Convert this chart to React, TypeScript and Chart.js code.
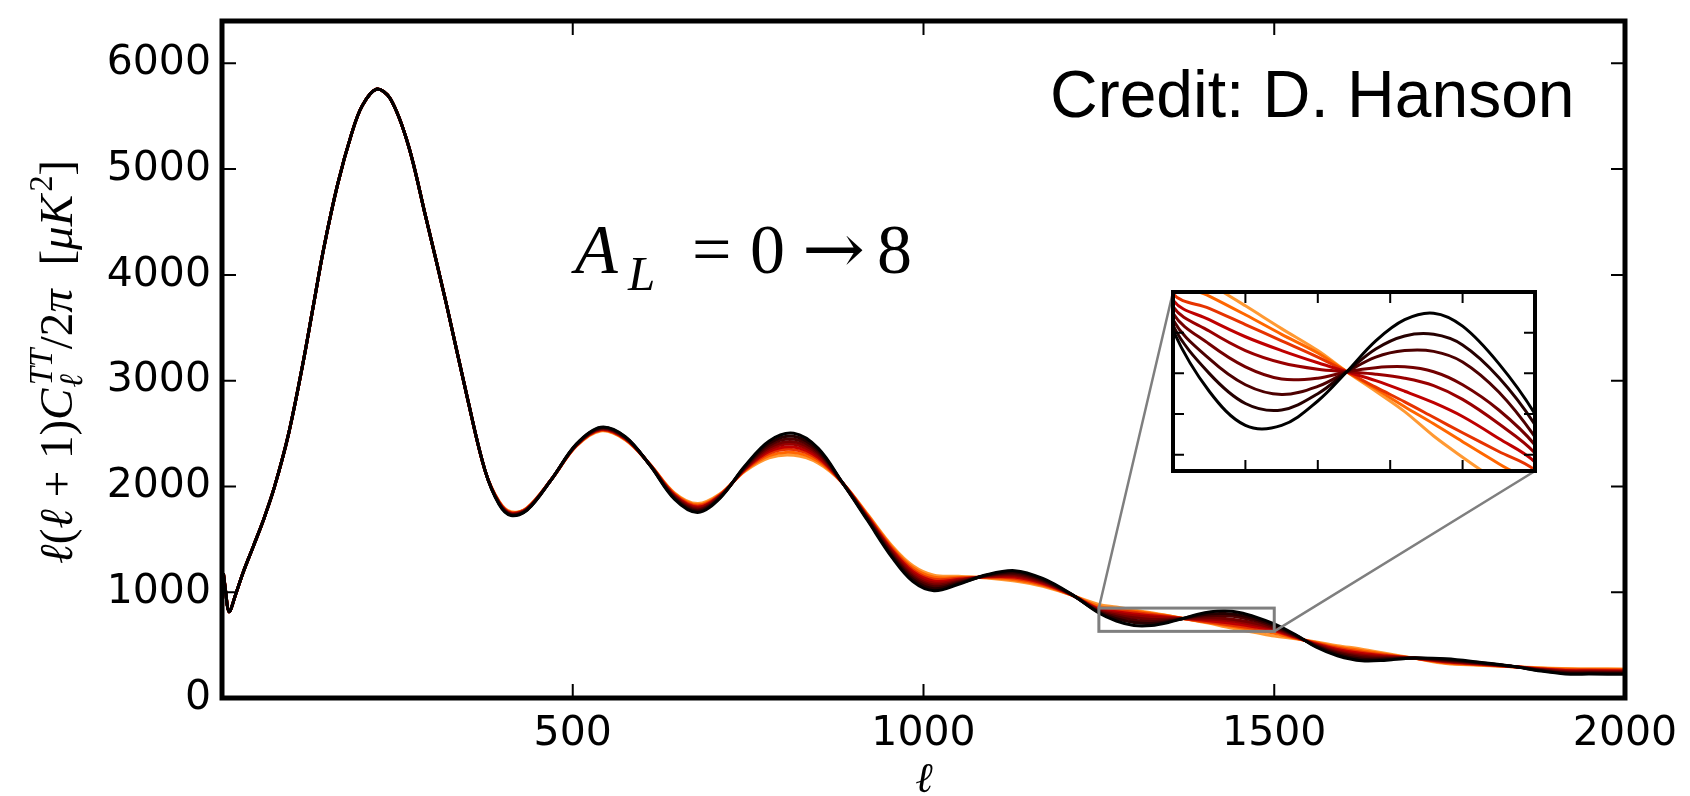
import { useEffect, useRef } from "react";
import { Chart, registerables } from "chart.js";

Chart.register(...registerables);

// ---------------- data ----------------
const A_L_VALUES = [0, 1, 2, 3, 4, 5, 6, 7, 8];
const CURVE_COLORS = ["#000000", "#260000", "#4d0000", "#730000", "#990000", "#bf0000", "#e63300", "#ff6600", "#ff9933"];

// multipoles where all curves coincide
const ELL_COMMON = [2, 5, 10, 20, 30, 45, 60, 75, 95, 115, 130, 145, 165, 185, 200, 220, 240, 265, 290, 320, 350, 375];
const DL_COMMON = [1180, 1020, 815, 990, 1185, 1440, 1700, 2000, 2500, 3150, 3700, 4250, 4860, 5340, 5600, 5755, 5665, 5240, 4560, 3720, 2830, 2150];

// multipoles where lensing separates the curves
const ELL_LENSED = [395, 412, 435, 470, 505, 540, 575, 610, 645, 678, 710, 745, 780, 815, 850, 885, 920, 955, 985, 1015, 1050, 1090, 1130, 1170, 1210, 1250, 1275, 1300, 1325, 1350, 1370, 1390, 1410, 1430, 1450, 1475, 1500, 1530, 1560, 1590, 1625, 1660, 1700, 1745, 1790, 1840, 1880, 1915, 1950, 2000];

const DL_AL0 = [1830, 1725, 1775, 2070, 2400, 2560, 2470, 2200, 1880, 1754, 1890, 2190, 2430, 2502, 2360, 2030, 1680, 1330, 1100, 1014, 1075, 1165, 1204, 1130, 985, 803, 728, 686, 686, 716, 752, 790, 816, 824, 808, 762, 700, 600, 480, 400, 352, 358, 378, 370, 340, 300, 255, 228, 226, 225];
const DL_AL1 = [1834, 1730, 1778, 2070, 2397, 2555, 2466, 2201, 1888, 1765, 1895, 2184, 2409, 2475, 2342, 2030, 1688, 1344, 1120, 1033, 1085, 1161, 1191, 1120, 984, 809, 750, 713, 705, 725, 752, 780, 796, 798, 785, 745, 687, 595, 487, 412, 366, 366, 378, 364, 336, 299, 259, 235, 233, 232];
const DL_AL2 = [1838, 1734, 1782, 2070, 2395, 2551, 2462, 2203, 1896, 1776, 1900, 2177, 2388, 2448, 2324, 2030, 1696, 1359, 1139, 1052, 1095, 1157, 1178, 1111, 982, 816, 768, 736, 724, 734, 752, 770, 778, 777, 764, 727, 672, 590, 493, 425, 381, 374, 377, 358, 332, 299, 263, 241, 239, 238];
const DL_AL3 = [1841, 1738, 1785, 2070, 2392, 2547, 2459, 2204, 1903, 1786, 1905, 2171, 2369, 2423, 2307, 2030, 1703, 1372, 1157, 1069, 1104, 1154, 1166, 1102, 981, 824, 786, 758, 743, 744, 752, 757, 758, 752, 736, 705, 662, 585, 499, 436, 394, 382, 377, 353, 329, 298, 266, 247, 245, 244];
const DL_AL4 = [1845, 1743, 1788, 2070, 2390, 2543, 2455, 2205, 1910, 1796, 1910, 2165, 2350, 2398, 2290, 2030, 1710, 1385, 1175, 1087, 1113, 1150, 1155, 1093, 980, 832, 802, 778, 763, 755, 752, 749, 744, 735, 718, 688, 652, 580, 505, 448, 407, 389, 377, 348, 325, 298, 270, 253, 252, 250];
const DL_AL5 = [1849, 1747, 1791, 2070, 2388, 2538, 2451, 2206, 1917, 1806, 1915, 2159, 2331, 2373, 2273, 2030, 1717, 1398, 1193, 1105, 1122, 1146, 1143, 1084, 979, 840, 816, 795, 778, 763, 752, 741, 728, 714, 697, 670, 641, 575, 511, 459, 420, 396, 376, 342, 321, 297, 274, 259, 258, 256];
const DL_AL6 = [1852, 1751, 1794, 2070, 2385, 2534, 2448, 2207, 1924, 1816, 1920, 2153, 2312, 2348, 2256, 2030, 1724, 1411, 1211, 1122, 1131, 1143, 1131, 1075, 978, 848, 830, 810, 790, 770, 752, 733, 715, 696, 677, 654, 631, 570, 517, 470, 433, 404, 376, 337, 318, 296, 277, 265, 264, 262];
const DL_AL7 = [1856, 1755, 1797, 2070, 2383, 2530, 2444, 2209, 1932, 1827, 1925, 2147, 2291, 2321, 2238, 2030, 1732, 1426, 1231, 1141, 1140, 1139, 1118, 1065, 976, 866, 845, 822, 798, 775, 752, 731, 709, 688, 666, 639, 613, 565, 524, 483, 448, 412, 375, 331, 314, 296, 281, 272, 270, 269];
const DL_AL8 = [1860, 1760, 1800, 2070, 2380, 2525, 2440, 2210, 1940, 1838, 1930, 2140, 2270, 2294, 2220, 2030, 1740, 1440, 1250, 1160, 1150, 1135, 1105, 1055, 975, 885, 860, 833, 805, 778, 752, 728, 703, 673, 647, 616, 585, 560, 530, 495, 462, 420, 375, 325, 310, 295, 285, 278, 277, 275];

const CURVES = [DL_AL0, DL_AL1, DL_AL2, DL_AL3, DL_AL4, DL_AL5, DL_AL6, DL_AL7, DL_AL8];

const X_TICKS = [500, 1000, 1500, 2000];
const Y_TICKS = [0, 1000, 2000, 3000, 4000, 5000, 6000];
const X_RANGE = [0, 2000];
const Y_RANGE = [0, 6400];

const INSET_X_RANGE = [1250, 1500];
const INSET_Y_RANGE = [630, 850];
const INSET_X_TICKS = [1300, 1350, 1400, 1450];
const INSET_Y_TICKS = [650, 700, 750, 800];

// ---------------- layout / style ----------------
const W = 1690;
const H = 796;
const INSET_BOX = { left: 1171, top: 290, width: 366, height: 183 };
const SANS_TICK = '"DejaVu Sans", "Bitstream Vera Sans", sans-serif';
const SERIF = '"Liberation Serif", "DejaVu Serif", serif';
const SANS = '"Liberation Sans", Arial, sans-serif';

type Seg = { t: string; it?: boolean; sub?: string; sup?: string };
const Y_LABEL: Seg[] = [
  { t: "ℓ", it: true },
  { t: "(" },
  { t: "ℓ", it: true },
  { t: " + " },
  { t: "1" },
  { t: ")" },
  { t: "C", it: true, sub: "ℓ", sup: "TT" },
  { t: "/" },
  { t: "2" },
  { t: "π", it: true },
  { t: "  [" },
  { t: "μK", it: true, sup: "2" },
  { t: "]" },
];

const fnt = (it: boolean | undefined, size: number, fam = SERIF) => `${it ? "italic " : ""}${size}px ${fam}`;
const isLetters = (s: string) => /[A-Za-zℓ]/.test(s);

function segWidth(ctx: CanvasRenderingContext2D, s: Seg, F: number) {
  ctx.font = fnt(s.it, F);
  const w = ctx.measureText(s.t).width;
  let ws = 0;
  if (s.sub) {
    ctx.font = fnt(true, F * 0.7);
    ws = Math.max(ws, ctx.measureText(s.sub).width);
  }
  if (s.sup) {
    ctx.font = fnt(isLetters(s.sup), F * 0.7);
    ws = Math.max(ws, ctx.measureText(s.sup).width);
  }
  return w + (ws ? ws + F * 0.06 : 0);
}

function drawSegs(ctx: CanvasRenderingContext2D, segs: Seg[], F: number, x0: number, y0: number) {
  let x = x0;
  for (const s of segs) {
    ctx.font = fnt(s.it, F);
    ctx.fillText(s.t, x, y0);
    const w = ctx.measureText(s.t).width;
    let ws = 0;
    if (s.sub) {
      ctx.font = fnt(true, F * 0.7);
      ctx.fillText(s.sub, x + w + F * 0.02, y0 + F * 0.22);
      ws = Math.max(ws, ctx.measureText(s.sub).width);
    }
    if (s.sup) {
      ctx.font = fnt(isLetters(s.sup), F * 0.7);
      ctx.fillText(s.sup, x + w + F * 0.07, y0 - F * 0.42);
      ws = Math.max(ws, ctx.measureText(s.sup).width);
    }
    x += w + (ws ? ws + F * 0.06 : 0);
  }
}

function buildDatasets(lineWidth: number) {
  return CURVES.map((vals, i) => ({
    label: `A_L = ${A_L_VALUES[i]}`,
    data: [
      ...ELL_COMMON.map((l, j) => ({ x: l, y: DL_COMMON[j] })),
      ...ELL_LENSED.map((l, j) => ({ x: l, y: vals[j] })),
    ],
    borderColor: CURVE_COLORS[i],
    backgroundColor: CURVE_COLORS[i],
    borderWidth: lineWidth,
    pointRadius: 0,
    fill: false,
    tension: 0.35,
  }));
}

const mainDecor = {
  id: "mainDecor",
  afterDatasetsDraw(chart: any) {
    const { ctx, chartArea: a } = chart;
    const x = chart.scales.x;
    const y = chart.scales.y;
    ctx.save();
    // zoom marker rectangle + connectors
    const rx0 = x.getPixelForValue(INSET_X_RANGE[0]);
    const rx1 = x.getPixelForValue(INSET_X_RANGE[1]);
    const ryTop = y.getPixelForValue(INSET_Y_RANGE[1]);
    const ryBot = y.getPixelForValue(INSET_Y_RANGE[0]);
    ctx.strokeStyle = "#7f7f7f";
    ctx.lineWidth = 3;
    ctx.strokeRect(rx0, ryTop, rx1 - rx0, ryBot - ryTop);
    ctx.lineWidth = 2.5;
    ctx.beginPath();
    ctx.moveTo(rx0, ryTop);
    ctx.lineTo(INSET_BOX.left + 2, INSET_BOX.top + 2);
    ctx.moveTo(rx1, ryBot);
    ctx.lineTo(INSET_BOX.left + INSET_BOX.width - 2, INSET_BOX.top + INSET_BOX.height - 2);
    ctx.stroke();
    // frame
    ctx.strokeStyle = "#000";
    ctx.lineWidth = 5;
    ctx.strokeRect(a.left, a.top, a.right - a.left, a.bottom - a.top);
    // inward ticks
    ctx.lineWidth = 2;
    ctx.beginPath();
    for (const v of X_TICKS) {
      if (v <= X_RANGE[0] || v >= X_RANGE[1]) continue;
      const px = x.getPixelForValue(v);
      ctx.moveTo(px, a.bottom);
      ctx.lineTo(px, a.bottom - 14);
      ctx.moveTo(px, a.top);
      ctx.lineTo(px, a.top + 14);
    }
    for (const v of Y_TICKS) {
      if (v <= Y_RANGE[0] || v >= Y_RANGE[1]) continue;
      const py = y.getPixelForValue(v);
      ctx.moveTo(a.left, py);
      ctx.lineTo(a.left + 14, py);
      ctx.moveTo(a.right, py);
      ctx.lineTo(a.right - 14, py);
    }
    ctx.stroke();
    ctx.restore();
  },
  afterDraw(chart: any) {
    const ctx: CanvasRenderingContext2D = chart.ctx;
    ctx.save();
    ctx.fillStyle = "#000";
    ctx.textBaseline = "alphabetic";
    ctx.textAlign = "left";

    // credit
    ctx.font = `66px ${SANS}`;
    ctx.fillText("Credit: D. Hanson", 1050, 117);

    // A_L = 0 -> 8
    ctx.font = fnt(true, 70);
    ctx.fillText("A", 575, 273);
    ctx.font = fnt(true, 49);
    ctx.fillText("L", 628, 290);
    ctx.font = fnt(false, 70);
    ctx.fillText("=", 692, 273);
    ctx.fillText("0", 750, 273);
    ctx.font = `70px "DejaVu Serif", serif`;
    const aw = ctx.measureText("→").width || 60;
    ctx.save();
    ctx.translate(802, 273);
    ctx.scale(63 / aw, 1);
    ctx.fillText("→", 0, 0);
    ctx.restore();
    ctx.font = fnt(false, 70);
    ctx.fillText("8", 877, 273);

    // x label
    ctx.textAlign = "center";
    ctx.font = fnt(true, 42);
    ctx.fillText("ℓ", 924, 792);

    // y label (rotated)
    ctx.textAlign = "left";
    const F = 47;
    let total = 0;
    for (const s of Y_LABEL) total += segWidth(ctx, s, F);
    ctx.translate(72, 362);
    ctx.rotate(-Math.PI / 2);
    drawSegs(ctx, Y_LABEL, F, -total / 2, 0);
    ctx.restore();
  },
};

const insetDecor = {
  id: "insetDecor",
  afterDatasetsDraw(chart: any) {
    const { ctx, chartArea: a } = chart;
    const x = chart.scales.x;
    const y = chart.scales.y;
    ctx.save();
    ctx.strokeStyle = "#000";
    ctx.lineWidth = 2;
    ctx.beginPath();
    for (const v of INSET_X_TICKS) {
      const px = x.getPixelForValue(v);
      ctx.moveTo(px, a.bottom);
      ctx.lineTo(px, a.bottom - 11);
      ctx.moveTo(px, a.top);
      ctx.lineTo(px, a.top + 11);
    }
    for (const v of INSET_Y_TICKS) {
      const py = y.getPixelForValue(v);
      ctx.moveTo(a.left, py);
      ctx.lineTo(a.left + 11, py);
      ctx.moveTo(a.right, py);
      ctx.lineTo(a.right - 11, py);
    }
    ctx.stroke();
    ctx.lineWidth = 4;
    ctx.strokeRect(a.left, a.top, a.right - a.left, a.bottom - a.top);
    ctx.restore();
  },
};

export default function App() {
  const mainRef = useRef<HTMLCanvasElement>(null);
  const insetRef = useRef<HTMLCanvasElement>(null);

  useEffect(() => {
    const main = new Chart(mainRef.current as HTMLCanvasElement, {
      type: "line",
      data: { datasets: buildDatasets(3) as any },
      options: {
        animation: false,
        responsive: false,
        events: [],
        layout: { padding: { left: 0, top: 21, right: 65, bottom: 0 } },
        plugins: { legend: { display: false }, tooltip: { enabled: false } },
        scales: {
          x: {
            type: "linear",
            min: X_RANGE[0],
            max: X_RANGE[1],
            grid: { display: false, drawTicks: false },
            border: { display: false },
            ticks: {
              padding: 12,
              color: "#000",
              font: { family: SANS_TICK, size: 41 },
              maxRotation: 0,
              autoSkip: false,
              callback: (v: any) => String(v),
            },
            afterBuildTicks: (s: any) => {
              s.ticks = X_TICKS.map((v) => ({ value: v }));
            },
            afterFit: (s: any) => {
              s.height = 98;
              s.paddingLeft = 0;
              s.paddingRight = 0;
            },
          },
          y: {
            type: "linear",
            min: Y_RANGE[0],
            max: Y_RANGE[1],
            grid: { display: false, drawTicks: false },
            border: { display: false },
            ticks: {
              padding: 11,
              color: "#000",
              font: { family: SANS_TICK, size: 41 },
              autoSkip: false,
              callback: (v: any) => String(v),
            },
            afterBuildTicks: (s: any) => {
              s.ticks = Y_TICKS.map((v) => ({ value: v }));
            },
            afterFit: (s: any) => {
              s.width = 222;
              s.paddingTop = 0;
              s.paddingBottom = 0;
            },
          },
        },
      } as any,
      plugins: [mainDecor],
    });

    const inset = new Chart(insetRef.current as HTMLCanvasElement, {
      type: "line",
      data: { datasets: buildDatasets(3) as any },
      options: {
        animation: false,
        responsive: false,
        events: [],
        layout: { padding: 2 },
        plugins: { legend: { display: false }, tooltip: { enabled: false } },
        scales: {
          x: { type: "linear", min: INSET_X_RANGE[0], max: INSET_X_RANGE[1], display: false },
          y: { type: "linear", min: INSET_Y_RANGE[0], max: INSET_Y_RANGE[1], display: false },
        },
      } as any,
      plugins: [insetDecor],
    });

    return () => {
      main.destroy();
      inset.destroy();
    };
  }, []);

  return (
    <div style={{ position: "absolute", left: 0, top: 0, width: W, height: H, background: "#fff", overflow: "hidden" }}>
      <canvas ref={mainRef} width={W} height={H} style={{ position: "absolute", left: 0, top: 0 }} />
      <canvas
        ref={insetRef}
        width={INSET_BOX.width}
        height={INSET_BOX.height}
        style={{ position: "absolute", left: INSET_BOX.left, top: INSET_BOX.top, background: "#fff" }}
      />
    </div>
  );
}
